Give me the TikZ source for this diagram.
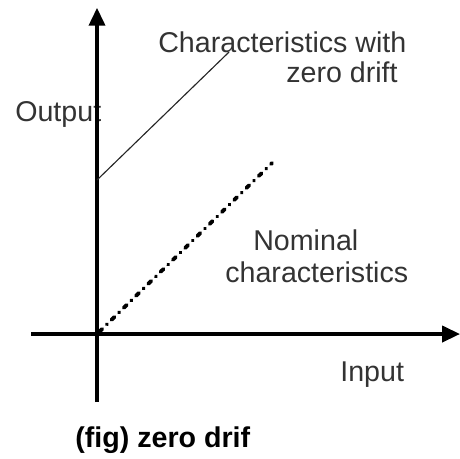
\documentclass[tikz,border=0pt]{standalone}
\usepackage{fontspec}
\setmainfont{Liberation Sans}
\usepackage{tikz}
\usetikzlibrary{arrows.meta,positioning,calc}

\begin{document}
\begin{tikzpicture}[
    lbl/.style={inner sep=0pt, text=black!80, font=\fontsize{17.7pt}{21pt}\selectfont},
    axis/.style={line width=1.9pt, -{Triangle[length=11pt,width=10pt]}}
  ]
  \useasboundingbox (-2.109,-2.696) rectangle (7.891,7.261);
  % Labels (under the axes)
  \node[lbl, anchor=base west] (chw) at (1.326,6.130) {Characteristics with};
  \node[lbl, anchor=base east] (zd) at (6.543,5.478) {zero drift};
  \node[lbl, anchor=base west] (out) at (-1.783,4.609) {Output};
  \node[lbl, anchor=base west] (nom) at (3.391,1.826) {Nominal};
  \node[lbl, anchor=base west] (chs) at (2.783,1.130) {characteristics};
  \node[lbl, anchor=base west] (inp) at (5.283,-1.043) {Input};
  \node[lbl, anchor=base west, text=black, font=\fontsize{17.7pt}{21pt}\selectfont\bfseries] (cap) at (-0.478,-2.457) {(fig) zero drif};
  % Axes
  \coordinate (O) at (0,0);
  \coordinate (xlo) at (-1.435,0);
  \coordinate (xhi) at (7.89,0);
  \coordinate (ylo) at (0,-1.478);
  \coordinate (yhi) at (0,7.09);
  \draw[axis] (xlo) -- (xhi);
  \draw[axis] (ylo) -- (yhi);
  % Characteristics with zero drift
  \coordinate (z0) at (0,3.348);
  \coordinate (z1) at (2.870,6.130);
  \draw[line width=0.7pt, black!85] (z0) -- (z1);
  % Nominal characteristics
  \coordinate (n0) at (0.05,0.05);
  \coordinate (n1) at (3.804,3.717);
  \draw[line width=2.4pt, line cap=round, dash pattern=on 2.5pt off 4pt on 0.1pt off 4pt] (n0) -- (n1);
\end{tikzpicture}
\end{document}
